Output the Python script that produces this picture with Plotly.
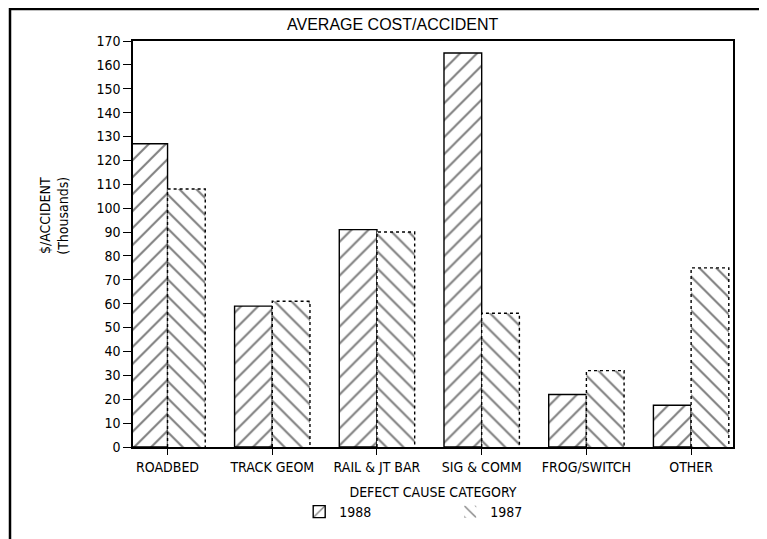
import plotly.graph_objects as go

categories = ["ROADBED", "TRACK GEOM", "RAIL & JT BAR", "SIG & COMM", "FROG/SWITCH", "OTHER"]
cost_1988 = [127, 59, 91, 165, 22, 17.5]
cost_1987 = [108, 61, 90, 56, 32, 75]
y_ticks = list(range(0, 171, 10))

FONT = "DejaVu Sans Condensed, Liberation Sans Narrow, Liberation Sans, sans-serif"
TITLE_FONT = "Liberation Sans, Arial, sans-serif"
W = 0.36
xs = list(range(len(categories)))

fig = go.Figure()
fig.add_trace(go.Bar(
    x=xs, y=cost_1988, name="1988", width=W, offset=-W,
    marker=dict(color="white", line=dict(color="black", width=1.4),
                pattern=dict(shape="/", fgcolor="black", bgcolor="white", size=12, solidity=0.17)),
))
fig.add_trace(go.Bar(
    x=xs, y=cost_1987, name="1987", width=W, offset=0,
    marker=dict(color="white", line=dict(color="rgba(0,0,0,0)", width=0),
                pattern=dict(shape="\\", fgcolor="black", bgcolor="white", size=12, solidity=0.17)),
))
# dotted outlines for 1987 bars, derived from data
ox, oy = [], []
for i, v in zip(xs, cost_1987):
    ox += [i, i, i + W, i + W, None]
    oy += [0, v, v, 0, None]
fig.add_trace(go.Scatter(x=ox, y=oy, mode="lines", showlegend=False, hoverinfo="skip",
                         line=dict(color="black", width=1.4, dash="dot")))

fig.update_layout(
    width=759, height=531,
    margin=dict(l=125, r=34, t=33, b=91),
    paper_bgcolor="white", plot_bgcolor="white",
    font=dict(family=FONT, size=14, color="black"),
    barmode="overlay",
    showlegend=True,
    legend=dict(orientation="h", x=0.277, xanchor="left", y=-0.118, yanchor="top",
                entrywidth=106, entrywidthmode="pixels", font=dict(size=14),
                bgcolor="rgba(0,0,0,0)"),
    xaxis=dict(range=[-0.33, 5.40], tickvals=xs, ticktext=categories,
               ticks="outside", ticklen=6, tickcolor="black", showgrid=False,
               showline=True, linecolor="black", linewidth=1.5, mirror=True,
               zeroline=False, tickfont=dict(size=14),
               title=dict(text="DEFECT CAUSE CATEGORY", font=dict(size=14), standoff=14)),
    yaxis=dict(range=[0, 170], tickvals=y_ticks, ticks="outside", ticklen=8,
               tickcolor="black", showgrid=False, showline=True, linecolor="black",
               linewidth=1.5, mirror=True, zeroline=False, tickfont=dict(size=14)),
    annotations=[
        dict(text="AVERAGE COST/ACCIDENT", xref="paper", yref="paper", x=0.433, y=1.0,
             xanchor="center", yanchor="bottom", yshift=6, showarrow=False,
             font=dict(size=16, family=TITLE_FONT)),
        dict(text="$/ACCIDENT<br>(Thousands)", xref="paper", yref="paper", x=-0.133, y=0.57,
             xanchor="center", yanchor="middle",
             textangle=-90, showarrow=False, font=dict(size=14)),
    ],
    shapes=[
        dict(type="rect", xref="paper", yref="paper", x0=-0.205, x1=1.048, y0=-0.3, y1=1.079,
             line=dict(color="black", width=2.5)),
    ],
)
fig.write_html("out.html")
